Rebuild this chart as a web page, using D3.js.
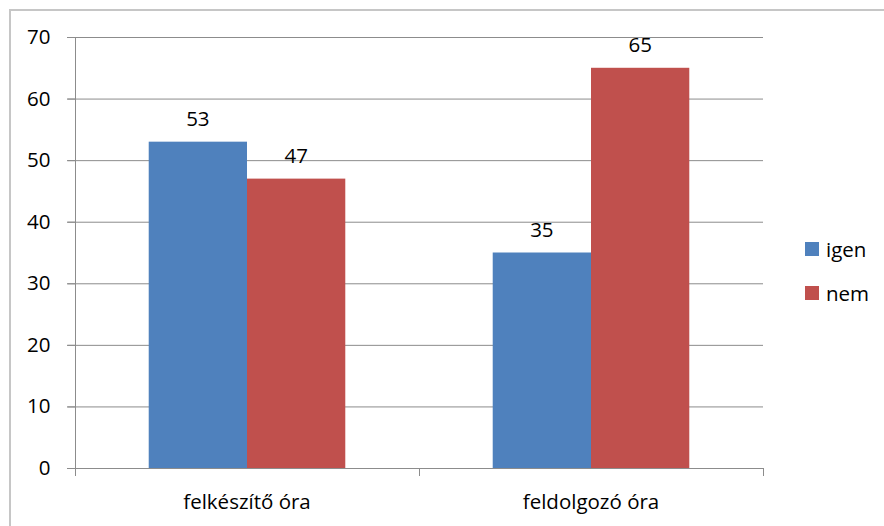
<!DOCTYPE html>
<html><head><meta charset="utf-8">
<script src="https://cdn.jsdelivr.net/npm/d3@7"></script>
<style>body{margin:0;background:#fff}svg{display:block}text{font-family:"Open Sans",sans-serif}</style>
</head><body><svg id="c" width="884" height="526"></svg>
<script>
const categories = ["felkészítő óra", "feldolgozó óra"];
const seriesNames = ["igen", "nem"];
const igenValues = [53, 35];
const nemValues = [47, 65];
const yTicks = [0, 10, 20, 30, 40, 50, 60, 70];
const colors = ["#4F81BD", "#C0504D"];
const FS = 20.5;

const svg = d3.select("#c");
svg.append("rect").attr("x", 10).attr("y", 10).attr("width", 900).attr("height", 600)
  .attr("fill", "none").attr("stroke", "#c6c6c6").attr("stroke-width", 2);

const L = 75, R = 763, T = 37, B = 468;
const x = d3.scaleBand().domain(categories).range([L, R]).paddingInner(0).paddingOuter(0);
const y = d3.scaleLinear().domain([0, 70]).range([B, T]);
const xs = d3.scaleBand().domain(seriesNames).range([0, x.bandwidth()]).paddingInner(0).paddingOuter(0.75);

// gridlines
svg.append("g").selectAll("line").data(yTicks).join("line")
  .attr("x1", L - 8).attr("x2", R).attr("y1", d => y(d) + 0.5).attr("y2", d => y(d) + 0.5)
  .attr("stroke", "#8c8c8c").attr("stroke-width", 1);

const data = categories.map((c, i) => ({c, vals: [igenValues[i], nemValues[i]]}));
const g = svg.append("g");
data.forEach(d => {
  d.vals.forEach((v, j) => {
    g.append("rect").attr("x", x(d.c) + xs(seriesNames[j])).attr("y", y(v))
      .attr("width", xs.bandwidth()).attr("height", y(0) - y(v)).attr("fill", colors[j]);
    g.append("text").attr("x", x(d.c) + xs(seriesNames[j]) + xs.bandwidth() / 2).attr("y", y(v) - 16)
      .attr("text-anchor", "middle").attr("font-size", FS).attr("fill", "#000").text(v);
  });
});

// y axis
const ya = svg.append("g").attr("transform", `translate(${L + 0.5},0)`)
  .call(d3.axisLeft(y).tickValues(yTicks).tickSize(8).tickPadding(17));
ya.select(".domain").attr("stroke", "#8c8c8c").attr("d", `M0,${T}V${B + 0.5}`);
ya.selectAll(".tick line").attr("stroke", "#8c8c8c");
ya.selectAll("text").attr("font-size", FS).attr("fill", "#000").style("font-family", '"Open Sans",sans-serif');

// x axis
const xa = svg.append("g").attr("transform", `translate(0,${B + 0.5})`)
  .call(d3.axisBottom(x).tickSize(0).tickPadding(26));
xa.select(".domain").remove();
xa.selectAll("text").attr("font-size", FS).attr("fill", "#000").style("font-family", '"Open Sans",sans-serif');
svg.append("g").selectAll("line").data([L, L + x.step(), R]).join("line")
  .attr("x1", d => Math.round(d) + 0.5).attr("x2", d => Math.round(d) + 0.5)
  .attr("y1", B).attr("y2", B + 8).attr("stroke", "#8c8c8c");

// legend
const lg = svg.append("g");
seriesNames.forEach((s, i) => {
  lg.append("rect").attr("x", 805).attr("y", 242 + i * 44).attr("width", 14).attr("height", 14).attr("fill", colors[i]);
  lg.append("text").attr("x", 826).attr("y", 257 + i * 44).attr("font-size", FS).attr("fill", "#000").text(s);
});
</script></body></html>
